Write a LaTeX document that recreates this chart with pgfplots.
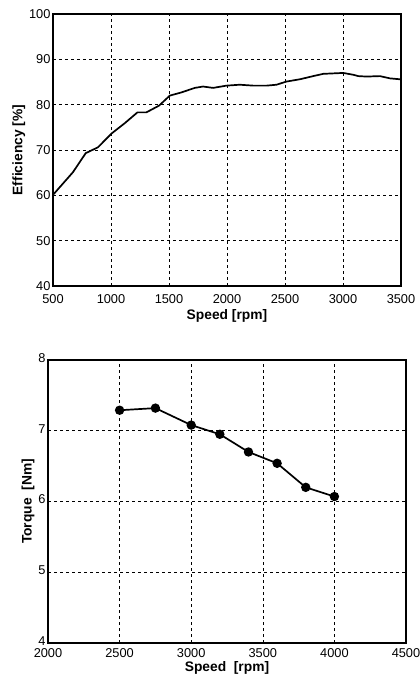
\documentclass[border=0pt]{standalone}
\usepackage{fontspec}
\setmainfont{Liberation Sans}
\usepackage{pgfplots}
\pgfplotsset{compat=1.18}

\pgfplotsset{
    mplot/.style={
        scale only axis,
        anchor=south west,
        axis line style={line width=1.2pt},
        grid=major,
        major grid style={dashed, black, line width=0.6pt},
        tick style={black, line width=0.6pt},
        major tick length=3pt,
        tick align=inside,
        xtick pos=bottom, ytick pos=left,
        tick label style={font=\fontsize{12.8}{13}\selectfont},
        label style={font=\bfseries\fontsize{13.8}{14}\selectfont},
        /pgf/number format/assume math mode=true,
        /pgf/number format/1000 sep={},
        yticklabel style={xshift=1pt},
    },
}

\begin{document}
\begin{tikzpicture}[x=1pt,y=1pt]
\path[use as bounding box] (0,0) rectangle (420,681);

% efficiency vs speed
\begin{axis}[mplot,
    at={(53pt,395pt)}, width=348pt, height=272pt,
    xmin=500, xmax=3500, ymin=40, ymax=100,
    xtick={500,1000,...,3500}, ytick={40,50,...,100},
    xlabel={Speed [rpm]}, ylabel={Efficiency [\%]},
    xticklabel style={yshift=-5pt},
    xlabel style={yshift=1pt}, ylabel style={yshift=-3pt},
]
\addplot[black, line width=1.7pt] coordinates {
    (500,60.1) (672,65.1) (782,69.3) (888,70.6) (1003,73.6) (1118,75.9)
    (1228,78.3) (1305,78.3) (1415,79.8) (1507,82.0) (1607,82.7) (1722,83.7)
    (1794,84.0) (1880,83.7) (1996,84.2) (2110,84.4) (2226,84.2) (2341,84.2)
    (2427,84.4) (2513,85.1) (2628,85.6) (2743,86.3) (2830,86.8) (2916,86.9)
    (3002,87.0) (3088,86.6) (3132,86.3) (3203,86.2) (3318,86.3) (3405,85.8)
    (3491,85.6) };
\end{axis}

% torque vs speed
\begin{axis}[mplot,
    at={(48pt,38pt)}, width=358pt, height=283pt,
    xmin=2000, xmax=4500, ymin=4, ymax=8,
    xtick={2000,2500,...,4500}, ytick={4,5,...,8},
    xlabel={Speed~~[rpm]}, ylabel={Torque~~[Nm]},
    xticklabel style={yshift=-2pt},
    yticklabel style={yshift=2pt},
    xlabel style={yshift=3pt}, ylabel style={yshift=-3pt},
]
\addplot[black, line width=1.7pt, mark=*, mark size=3.8pt] coordinates {
    (2500,7.29) (2750,7.32) (3000,7.08) (3200,6.95)
    (3400,6.70) (3600,6.54) (3800,6.20) (4000,6.07) };
\end{axis}
\end{tikzpicture}
\end{document}
